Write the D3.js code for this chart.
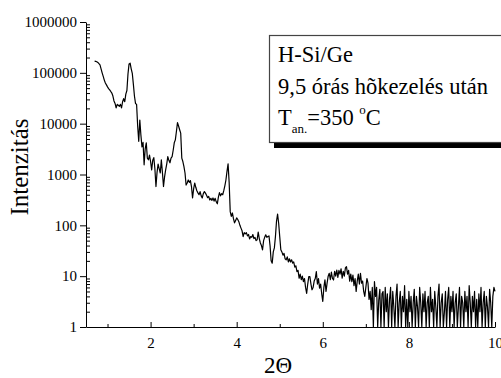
<!DOCTYPE html>
<html>
<head>
<meta charset="utf-8">
<script src="https://cdn.jsdelivr.net/npm/d3@7"></script>
<style>
  html, body { margin: 0; padding: 0; background: #fff; }
  svg { display: block; }
  svg text { font-family: "Liberation Serif", "Times New Roman", serif; }
</style>
</head>
<body>
<div id="chart"></div>
<script>
// scan: 2Theta from 0.70 to 10.00, step 0.025
const twoThetaStart = 0.70;
const twoThetaStep = 0.025;
const intensity = [
  170000,168000,165000,160000,152000,144000,120000,100000,85000,72000,63000,58000,53000,49000,46000,43000,40000,35000,28000,25000,
  20500,24000,23000,22000,24000,20500,27000,31000,27000,38000,45000,95000,150000,155000,120000,98000,60000,35000,25000,24000,
  9000,4500,11800,6000,3500,4300,1550,3200,4200,2100,1950,2400,1800,1230,1900,2150,1300,580,1100,1600,
  1300,1070,1950,1100,580,900,1230,1600,2240,1900,1700,2100,2240,3000,4200,4800,7000,10500,9000,7600,
  6500,2100,1800,1430,1070,620,680,780,700,760,580,345,520,680,560,480,435,400,460,380,
  345,420,460,430,390,350,370,315,340,310,345,300,340,290,265,360,440,380,420,400,
  480,600,780,1150,1620,700,186,150,175,135,112,125,140,130,118,100,88,78,60,72,
  68,72,62,66,54,60,58,66,55,58,50,52,74,55,45,40,33,50,58,65,
  58,60,62,40,20,18,30,36,60,120,167,110,60,33,30,26,28,22,21,24,
  19,22,19,21,18,19,15,16,12.3,13,9.1,11,8.5,10,7.8,9,6,4.6,7,9.8,
  9.8,7,5.4,6,8,9,12.3,7,9,5.8,7,4.5,3.2,6,8.5,5,7.3,10,11.4,8.5,
  12,9,8.4,12.5,10,13.2,9.5,13,11,14,9.1,12.5,10,14.5,15.4,11,13,8,11,7.8,
  10.5,6.5,9,5,8,11,7,11.4,7.3,8,5,4,6,9,7.3,3.5,5,2.2,6,1,
  7.8,4,6,1,3.4,5.5,1,4.5,5,1,6,2,4.5,1,3.5,6,1,5,2.5,1,
  4,7,1,3,5,1,4,2,6.5,1,3.5,1,5,2,4,1,3,5.5,1,4,
  2.5,1,6,3,1,4.5,2,5,1,3,4,1,6,2,3.5,1,5,2.5,1,4,
  7,1,3,4.5,1,2,5,1,3.5,6,1,4,2,5,1,3,4.5,1,2.5,6,
  1,4,3,1,5,2,4,1,6.5,3,1,4,2,5,1,3.5,1,4.5,2,6,
  1,3,5,1,4,2.5,1,5.5,3,1,4,6,5
];

const xTicks = [2, 4, 6, 8, 10];
const xMinorTicks = [1, 3, 5, 7, 9];
const yTicks = [1, 10, 100, 1000, 10000, 100000, 1000000];

const xTitle = '2\u0398';
const yTitle = 'Intenzit\u00e1s';
const legendLines = ['H-Si/Ge', '9,5 \u00f3r\u00e1s h\u00f5kezel\u00e9s ut\u00e1n'];
const anneal = { sub: 'an.', value: '=350 ', deg: 'o', unit: 'C' };

const width = 501, height = 378;
const serif = '"Liberation Serif", "Times New Roman", serif';

const svg = d3.select('#chart').append('svg')
  .attr('width', width)
  .attr('height', height)
  .attr('font-family', serif);

svg.append('rect').attr('width', width).attr('height', height).attr('fill', '#fff');

const x = d3.scaleLinear().domain([0.5, 10]).range([86, 495]);
const y = d3.scaleLog().domain([1, 1e6]).range([327, 22]);

const data = intensity.map((v, i) => ({ t: twoThetaStart + i * twoThetaStep, v: v }));

// minor ticks on the log axis
let yMinor = [];
yTicks.slice(0, -1).forEach(d => {
  for (let k = 2; k <= 9; k++) yMinor.push(d * k);
});

// y axis
svg.append('g')
  .attr('transform', 'translate(86,0)')
  .call(d3.axisLeft(y).tickValues(yTicks).tickFormat(d3.format('d')).tickSize(6).tickSizeOuter(0).tickPadding(3))
  .attr('font-family', serif)
  .attr('font-size', 15);

svg.append('g')
  .attr('transform', 'translate(86,0)')
  .call(d3.axisRight(y).tickValues(yMinor).tickFormat('').tickSize(4).tickSizeOuter(0))
  .select('.domain').remove();

// x axis, ticks pointing inward
svg.append('g')
  .attr('transform', 'translate(0,327)')
  .call(d3.axisBottom(x).tickValues(xTicks).tickFormat(d3.format('d')).tickSize(-5).tickSizeOuter(0).tickPadding(10))
  .attr('font-family', serif)
  .attr('font-size', 15);

svg.append('g')
  .attr('transform', 'translate(0,327)')
  .call(d3.axisBottom(x).tickValues(xMinorTicks).tickFormat('').tickSize(-3).tickSizeOuter(0))
  .select('.domain').remove();

svg.selectAll('.tick text').attr('fill', '#000');
svg.selectAll('.domain, .tick line').attr('stroke', '#000').attr('stroke-width', 1);

// spectrum
const line = d3.line()
  .x(d => x(d.t))
  .y(d => y(d.v));

svg.append('path')
  .datum(data)
  .attr('fill', 'none')
  .attr('stroke', '#000')
  .attr('stroke-width', 1.2)
  .attr('stroke-linejoin', 'round')
  .attr('d', line);

// axis titles
svg.append('text')
  .attr('x', 278)
  .attr('y', 373)
  .attr('text-anchor', 'middle')
  .attr('font-size', 23)
  .text(xTitle);

svg.append('text')
  .attr('transform', 'translate(28,167) rotate(-90)')
  .attr('text-anchor', 'middle')
  .attr('font-size', 25)
  .text(yTitle);

// legend box with shadow
const legend = svg.append('g');

legend.append('rect')
  .attr('x', 274).attr('y', 40)
  .attr('width', 240).attr('height', 108)
  .attr('fill', '#000');

legend.append('rect')
  .attr('x', 269.5).attr('y', 35.5)
  .attr('width', 240).attr('height', 107)
  .attr('fill', '#fff')
  .attr('stroke', '#444')
  .attr('stroke-width', 1.2);

legend.selectAll('text.line')
  .data(legendLines)
  .enter()
  .append('text')
  .attr('class', 'line')
  .attr('x', 278)
  .attr('y', (d, i) => 62 + i * 31.5)
  .attr('font-size', 22.5)
  .text(d => d);

const tLine = legend.append('text')
  .attr('x', 278)
  .attr('y', 125)
  .attr('font-size', 22.5);

tLine.append('tspan').text('T');
tLine.append('tspan').attr('dy', 8).attr('font-size', 13).text(anneal.sub);
tLine.append('tspan').attr('dy', -8).text(anneal.value);
tLine.append('tspan').attr('dy', -11).attr('font-size', 13).text(anneal.deg);
tLine.append('tspan').attr('dy', 11).text(anneal.unit);
</script>
</body>
</html>
